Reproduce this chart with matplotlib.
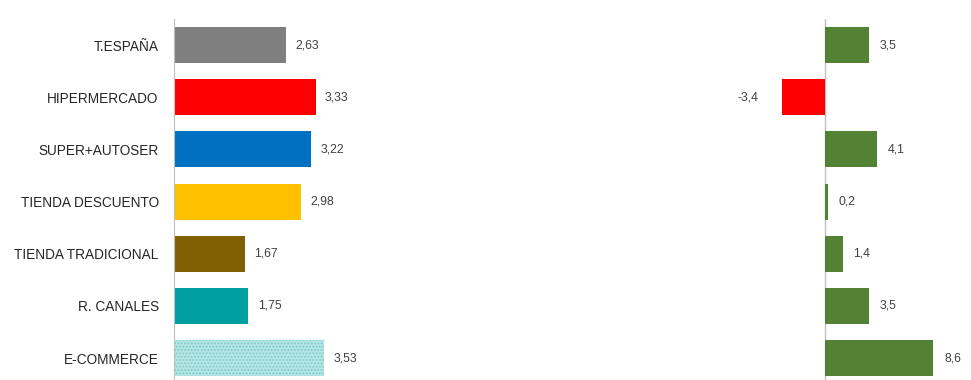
import matplotlib.pyplot as plt

plt.rcParams['font.family'] = ['Liberation Sans', 'DejaVu Sans']

# datos
categorias = ['T.ESPAÑA', 'HIPERMERCADO', 'SUPER+AUTOSER', 'TIENDA DESCUENTO',
              'TIENDA TRADICIONAL', 'R. CANALES', 'E-COMMERCE']
valores = [2.63, 3.33, 3.22, 2.98, 1.67, 1.75, 3.53]
variacion = [3.5, -3.4, 4.1, 0.2, 1.4, 3.5, 8.6]

colores = ['#7f7f7f', '#ff0000', '#0070c0', '#ffc000', '#806000', '#00a0a0', '#b8e6e6']
verde = '#548235'
rojo = '#ff0000'
gris_eje = '#bfbfbf'
texto = '#404040'

fig = plt.figure(figsize=(9.71, 3.8), dpi=100)

# panel izquierdo
ax1 = fig.add_axes([174 / 971, 0.0, 170 / 971, 0.95])
y = range(len(categorias))
barras = ax1.barh(y, valores, height=0.69, color=colores)
# E-COMMERCE con trama punteada
barras[-1].set_hatch('.....')
barras[-1].set_edgecolor('#7fcccc')
barras[-1].set_linewidth(0)
ax1.set_xlim(0, 4)
ax1.set_ylim(6.42, -0.5)
ax1.set_yticks(list(y))
ax1.set_yticklabels(categorias, fontsize=9.8, color='#262626')
ax1.tick_params(axis='y', length=0, pad=11)
ax1.set_xticks([])
for s in ['top', 'right', 'bottom']:
    ax1.spines[s].set_visible(False)
ax1.spines['left'].set_color(gris_eje)
for i, v in enumerate(valores):
    ax1.text(v + 0.22, i, f'{v:.2f}'.replace('.', ','), va='center', ha='left',
             fontsize=8.8, color=texto)

# panel derecho
ax2 = fig.add_axes([(825 - 4 * 12.6) / 971, 0.0, 14 * 12.6 / 971, 0.95])
col2 = [rojo if v < 0 else verde for v in variacion]
ax2.barh(y, variacion, height=0.69, color=col2)
ax2.axvline(0, color=gris_eje, lw=1, zorder=0)
ax2.set_xlim(-4, 10)
ax2.set_ylim(6.42, -0.5)
ax2.axis('off')
for i, v in enumerate(variacion):
    txt = f'{v:.1f}'.replace('.', ',')
    if v < 0:
        ax2.text(v - 1.9, i, txt, va='center', ha='right', fontsize=8.8, color=texto)
    else:
        ax2.text(v + 0.85, i, txt, va='center', ha='left', fontsize=8.8, color=texto)

fig.savefig('out.png', dpi=100)
